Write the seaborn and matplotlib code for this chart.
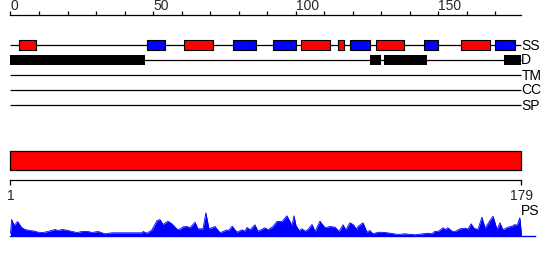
import matplotlib
matplotlib.use("Agg")
import matplotlib.pyplot as plt
import seaborn as sns
import numpy as np

# ---------------- data ----------------
seq_length = 179
top_ticks_major = [0, 50, 100, 150]
top_ticks_minor = [10, 20, 30, 40, 60, 70, 80, 90, 110, 120, 130, 140, 160, 170]

helix_start = [3, 61, 102, 115, 128, 158]
helix_end = [9, 71, 112, 117, 138, 168]
strand_start = [48, 78, 92, 119, 145, 170]
strand_end = [54, 86, 100, 126, 150, 177]
disorder_start = [0, 126, 131, 173]
disorder_end = [47, 130, 146, 179]

track_names = ["SS", "D", "TM", "CC", "SP"]
domain_start = [0]
domain_end = [179]
ruler_labels = ["1", "179"]

ps_pos = [0, 0.4, 1.3, 2.5, 3.9, 5.1, 6.8, 8.6, 9.6, 11.4, 13.1, 15.6, 16.7, 18.1, 19.8,
          21.6, 23.3, 25.1, 27.2, 28.6, 29.6, 30.7, 33.1, 35.6, 46.1, 46.5, 47.9, 49.6,
          51.4, 52.4, 53.5, 55.2, 56.6, 58.4, 59.4, 60.5, 61.9, 62.9, 64.7, 65.7, 67.5,
          68.5, 69.6, 71.7, 73.5, 75.9, 76.3, 77.7, 79.4, 81.2, 82.2, 82.9, 84.0, 85.7,
          86.8, 89.2, 90.3, 92.0, 93.4, 95.2, 96.9, 98.0, 98.7, 99.4, 100.1, 101.2, 102.2,
          103.3, 104.3, 105.7, 106.8, 108.5, 110.3, 112.0, 113.8, 115.2, 116.6, 117.6,
          119.0, 120.1, 121.5, 121.8, 123.6, 125.0, 126.0, 127.1, 128.9, 131.3, 133.1,
          135.9, 138.3, 141.8, 144.6, 146.4, 147.8, 148.8, 149.9, 151.7, 152.4, 153.4,
          154.8, 155.9, 157.6, 159.4, 160.4, 161.5, 162.5, 163.9, 165.3, 166.4, 168.1,
          169.2, 170.6, 171.6, 172.7, 174.4, 175.8, 176.9, 177.6, 178.6, 179.2]
ps_val = [2, 16, 10, 14, 8, 6, 5, 4.3, 3.3, 3, 4, 6, 5, 6, 5.3,
          4, 3, 4, 4, 3, 3.5, 4, 1.7, 2.7, 2.7, 4, 2.3, 5.7,
          15, 16, 11, 14.3, 11.7, 6.3, 6.3, 8.7, 9, 7.7, 13.3, 6.7, 6.7,
          22.7, 6.7, 9, 2.7, 5.7, 4.5, 9.3, 3.3, 5.7, 4.3, 8, 5.7, 10.7,
          4.3, 7.7, 5.7, 9, 14, 14, 19.7, 14, 10, 19.7, 10, 5, 6.7,
          4.3, 6, 11, 4, 14.3, 7.7, 9, 8.3, 4, 10.7, 5.7,
          12.7, 11, 6, 9, 12.7, 3.3, 5, 1.7, 3.3, 3, 2.3,
          1, 1.7, 0.7, 1.7, 2.3, 1.7, 4.3, 4, 7.7, 6, 7.7,
          4.3, 4, 6.7, 7.3, 6.5, 11.7, 7.3, 6, 18.3, 7.3, 15,
          19.3, 6, 12.7, 5.7, 8.3, 9.3, 11, 10, 17.7, 0]

# ---------------- layout ----------------
W, H = 550, 260
px_per_unit = 2.852
x0_px = 10.5
XL = -x0_px / px_per_unit
XR = (W - x0_px) / px_per_unit

sns.set_theme(style="white")
plt.rcParams["font.family"] = ["Liberation Sans Narrow", "Liberation Sans", "DejaVu Sans"]
plt.rcParams["axes.linewidth"] = 0.8

fig = plt.figure(figsize=(W / 100, H / 100), dpi=100)

def frac_y(px):
    return 1 - px / H

# main track axes (y in pixel rows)
ax = fig.add_axes([0, 0, 1, 1])
ax.set_xlim(XL, XR)
ax.set_ylim(H, 0)
ax.axis("off")

track_y = [45, 60, 75, 90, 105]
for name, y in zip(track_names, track_y):
    ax.hlines(y, 0, seq_length, color="black", lw=0.9, zorder=1)
    ax.text(seq_length + 0.1, y + 0.5, name, ha="left", va="center", fontsize=10, color="black")

ss_h = 10.5
ax.broken_barh([(s, e - s) for s, e in zip(helix_start, helix_end)], (45 - ss_h / 2, ss_h),
               facecolors="#ff0000", edgecolors="black", linewidth=0.8, zorder=2)
ax.broken_barh([(s, e - s) for s, e in zip(strand_start, strand_end)], (45 - ss_h / 2, ss_h),
               facecolors="#0000ff", edgecolors="black", linewidth=0.8, zorder=2)
ax.broken_barh([(s, e - s) for s, e in zip(disorder_start, disorder_end)], (60 - 5.3, 10.6),
               facecolors="black", edgecolors="black", linewidth=0, zorder=2)

# domain bar
ax.broken_barh([(s, e - s) for s, e in zip(domain_start, domain_end)], (150.7, 19.6),
               facecolors="#ff0000", edgecolors="black", linewidth=0.9, zorder=2)

# top ruler axes: top spine at y=15px
axt = fig.add_axes([0, frac_y(15), 1, 0.001])
axt.set_xlim(XL, XR)
for s in ["bottom", "left", "right"]:
    axt.spines[s].set_visible(False)
axt.spines["top"].set_visible(True)
axt.spines["top"].set_bounds(0, seq_length)
axt.spines["top"].set_color("black")
axt.spines["top"].set_linewidth(0.9)
axt.set_yticks([])
axt.xaxis.set_ticks_position("top")
axt.set_xticks(top_ticks_major)
axt.set_xticks(top_ticks_minor, minor=True)
axt.set_xticklabels([str(t) for t in top_ticks_major], fontsize=10)
for lab in axt.get_xticklabels():
    lab.set_horizontalalignment("left")
axt.tick_params(axis="x", which="both", direction="out", length=3.0, width=0.9,
                color="black", pad=-1.5, top=True, bottom=False)
axt.tick_params(axis="x", which="minor", labeltop=False)
axt.patch.set_alpha(0)

# bottom ruler axes: bottom spine at y=180.3px
axb = fig.add_axes([0, frac_y(180.3), 1, 0.001])
axb.set_xlim(XL, XR)
for s in ["top", "left", "right"]:
    axb.spines[s].set_visible(False)
axb.spines["bottom"].set_bounds(0, seq_length)
axb.spines["bottom"].set_color("black")
axb.spines["bottom"].set_linewidth(0.9)
axb.set_yticks([])
axb.set_xticks([0, seq_length])
axb.set_xticklabels(ruler_labels, fontsize=10)
axb.tick_params(axis="x", direction="out", length=3.6, width=0.9, color="black", pad=3.0,
                bottom=True)
axb.patch.set_alpha(0)

# PS profile axes
prof_top, prof_bot = 205, 235.5
axp = fig.add_axes([0, frac_y(prof_bot), 1, (prof_bot - prof_top) / H])
axp.set_xlim(XL, XR)
axp.set_ylim(0, prof_bot - prof_top)
axp.fill_between(ps_pos, ps_val, 0, color="#0000ff", lw=0)
sns.lineplot(x=ps_pos, y=ps_val, ax=axp, color="#0000ff", lw=0.6, estimator=None, sort=False)
for s in ["top", "left", "right"]:
    axp.spines[s].set_visible(False)
axp.spines["bottom"].set_bounds(0, 184)
axp.spines["bottom"].set_color("#0000ff")
axp.spines["bottom"].set_linewidth(1.0)
axp.set_xticks([])
axp.set_yticks([])
axp.set_xlabel("")
axp.set_ylabel("")
axp.patch.set_alpha(0)

ax.text(seq_length + 0.1, 211, "PS", ha="left", va="center", fontsize=10, color="black")

fig.savefig("out.png", dpi=100)
